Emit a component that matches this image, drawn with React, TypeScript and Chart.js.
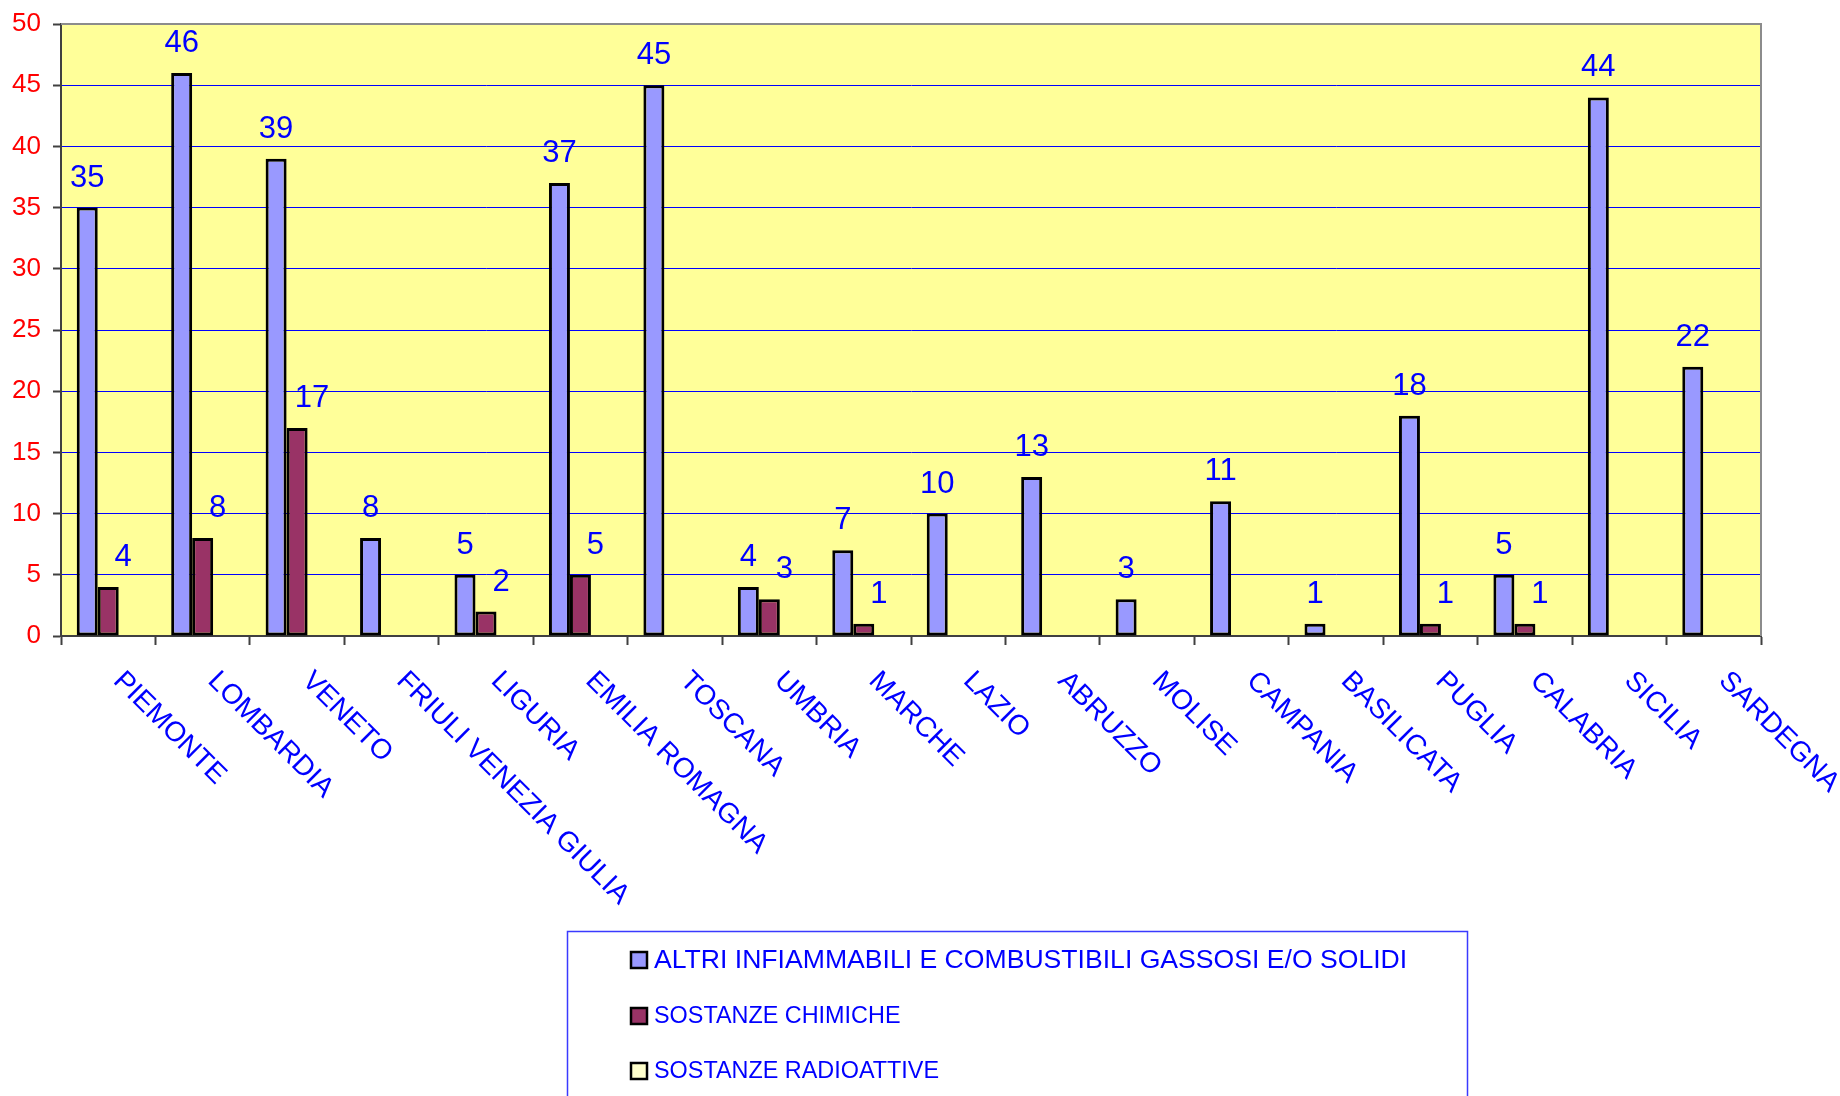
import React, { useEffect, useRef } from "react";
import { Chart, registerables } from "chart.js";

Chart.register(...registerables);

const regions = [
  "PIEMONTE", "LOMBARDIA", "VENETO", "FRIULI VENEZIA GIULIA", "LIGURIA",
  "EMILIA ROMAGNA", "TOSCANA", "UMBRIA", "MARCHE", "LAZIO", "ABRUZZO",
  "MOLISE", "CAMPANIA", "BASILICATA", "PUGLIA", "CALABRIA", "SICILIA", "SARDEGNA",
];

const seriesNames = [
  "ALTRI INFIAMMABILI E COMBUSTIBILI GASSOSI E/O SOLIDI",
  "SOSTANZE CHIMICHE",
  "SOSTANZE RADIOATTIVE",
];

const altriInfiammabili = [35, 46, 39, 8, 5, 37, 45, 4, 7, 10, 13, 3, 11, 1, 18, 5, 44, 22];
const sostanzeChimiche = [4, 8, 17, 0, 2, 5, 0, 3, 1, 0, 0, 0, 0, 0, 1, 1, 0, 0];
const sostanzeRadioattive = [0, 0, 0, 0, 0, 0, 0, 0, 0, 0, 0, 0, 0, 0, 0, 0, 0, 0];

const yTicks = [0, 5, 10, 15, 20, 25, 30, 35, 40, 45, 50];

const seriesColors = ["#9999FF", "#993366", "#FFFFCC"];

const FONT = "'Liberation Sans', Arial, sans-serif";

export default function App() {
  const ref = useRef<HTMLCanvasElement | null>(null);

  useEffect(() => {
    const canvas = ref.current;
    if (!canvas) return;

    const toBars = (arr: number[]) => arr.map((v) => (v > 0 ? v : null));

    const bgPlugin = {
      id: "bgPlugin",
      beforeDraw(chart: any) {
        const { ctx, chartArea } = chart;
        ctx.save();
        ctx.fillStyle = "#FFFFFF";
        ctx.fillRect(0, 0, chart.width, chart.height);
        ctx.fillStyle = "#FFFF99";
        ctx.fillRect(chartArea.left, chartArea.top, chartArea.right - chartArea.left, chartArea.bottom - chartArea.top);
        ctx.restore();
      },
      afterDraw(chart: any) {
        const { ctx, chartArea } = chart;
        const xScale = chart.scales.x;
        ctx.save();
        // plot frame: top & right grey
        ctx.strokeStyle = "#8C8C8C";
        ctx.lineWidth = 2;
        ctx.beginPath();
        ctx.moveTo(chartArea.left, chartArea.top);
        ctx.lineTo(chartArea.right, chartArea.top);
        ctx.lineTo(chartArea.right, chartArea.bottom);
        ctx.stroke();

        // data labels
        ctx.fillStyle = "#0000FF";
        ctx.font = `31px ${FONT}`;
        ctx.textAlign = "center";
        ctx.textBaseline = "alphabetic";
        const offsets = [0, 15, 0];
        chart.data.datasets.forEach((ds: any, di: number) => {
          const meta = chart.getDatasetMeta(di);
          meta.data.forEach((bar: any, i: number) => {
            const v = ds.data[i];
            if (v == null || v <= 0) return;
            ctx.fillText(String(v), bar.x + offsets[di], bar.y - 21);
          });
        });

        // category labels rotated
        ctx.font = `28px ${FONT}`;
        ctx.textAlign = "left";
        ctx.textBaseline = "alphabetic";
        regions.forEach((name, i) => {
          const x = xScale.getPixelForValue(i) + 4;
          const y = chartArea.bottom + 46;
          ctx.save();
          ctx.translate(x, y);
          ctx.rotate(Math.PI / 4);
          ctx.fillText(name, 0, 0);
          ctx.restore();
        });

        // legend
        const lx = 567.5, ly = 931.5, lw = 900, lh = 250;
        ctx.strokeStyle = "#3A3AFF";
        ctx.lineWidth = 1.5;
        ctx.strokeRect(lx, ly, lw, lh);
        const rowsY = [960, 1016, 1071];
        const sizes = [26.6, 23.4, 23.4];
        seriesNames.forEach((name, i) => {
          const cy = rowsY[i];
          ctx.fillStyle = seriesColors[i];
          ctx.fillRect(631, cy - 8, 16, 16);
          ctx.strokeStyle = "#000000";
          ctx.lineWidth = 2.5;
          ctx.strokeRect(631, cy - 8, 16, 16);
          ctx.fillStyle = "#0000FF";
          ctx.font = `${sizes[i]}px ${FONT}`;
          ctx.textAlign = "left";
          ctx.textBaseline = "middle";
          ctx.fillText(name, 654, cy + 1);
        });
        ctx.restore();
      },
    };

    const chart = new Chart(canvas, {
      type: "bar",
      data: {
        labels: regions,
        datasets: [
          { label: seriesNames[0], data: toBars(altriInfiammabili), backgroundColor: seriesColors[0] },
          { label: seriesNames[1], data: toBars(sostanzeChimiche), backgroundColor: seriesColors[1] },
          { label: seriesNames[2], data: toBars(sostanzeRadioattive), backgroundColor: seriesColors[2] },
        ].map((d) => ({
          ...d,
          borderColor: "#000000",
          borderWidth: 3,
          borderSkipped: false,
          categoryPercentage: 0.667,
          barPercentage: 1,
        })) as any,
      },
      options: {
        responsive: false,
        animation: false,
        events: [],
        layout: { padding: { top: 24, right: 79, left: 0, bottom: 0 } },
        plugins: { legend: { display: false }, tooltip: { enabled: false } },
        scales: {
          x: {
            afterFit: (s: any) => { s.height = 460; s.paddingLeft = 0; s.paddingRight = 0; },
            ticks: { display: false },
            grid: {
              offset: true,
              drawOnChartArea: false,
              drawTicks: true,
              tickLength: 9,
              tickColor: "#404040",
              tickWidth: 2,
            },
            border: { display: true, color: "#404040", width: 2 },
          },
          y: {
            min: 0,
            max: 50,
            afterFit: (s: any) => { s.width = 61; s.paddingTop = 0; s.paddingBottom = 0; },
            afterBuildTicks: (s: any) => { s.ticks = yTicks.map((v) => ({ value: v })); },
            ticks: {
              color: "#FF0000",
              font: { family: FONT, size: 26 },
              padding: 12,
            },
            grid: {
              color: "#0000FF",
              lineWidth: 1,
              tickLength: 8,
              tickColor: "#404040",
              tickWidth: 2,
            },
            border: { display: true, color: "#404040", width: 2 },
          },
        },
      },
      plugins: [bgPlugin],
    });

    return () => chart.destroy();
  }, []);

  return (
    <div style={{ position: "absolute", left: 0, top: 0, width: 1840, height: 1096, background: "#fff" }}>
      <canvas ref={ref} width={1840} height={1096} style={{ display: "block" }} />
    </div>
  );
}
